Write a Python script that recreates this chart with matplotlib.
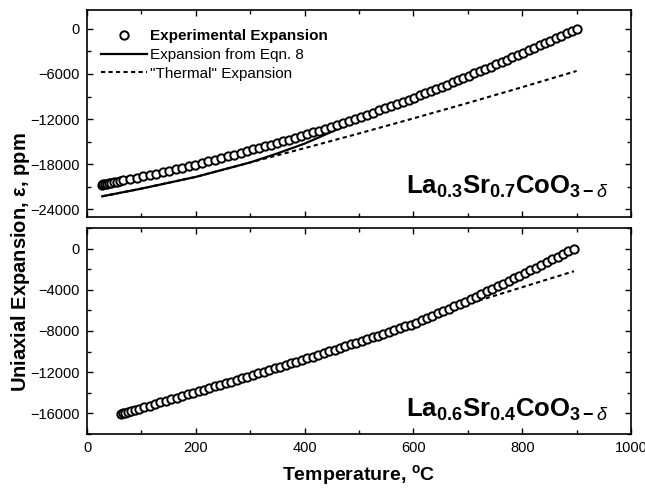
import matplotlib
matplotlib.use("Agg")
import matplotlib.pyplot as plt
from matplotlib.ticker import MultipleLocator

plt.rcParams['font.family'] = ['Liberation Sans', 'DejaVu Sans']
plt.rcParams['mathtext.fontset'] = 'custom'
plt.rcParams['mathtext.rm'] = 'Liberation Sans'
plt.rcParams['mathtext.bf'] = 'Liberation Sans:bold'
plt.rcParams['mathtext.it'] = 'Liberation Sans:italic'

# ---------------- Top panel: La0.3Sr0.7CoO3-d ----------------
top_exp_T = [28, 30, 33, 36, 40, 44, 49, 55, 61, 67, 79, 91,
             103, 115, 127, 139, 151, 163, 175, 187, 199,
             211, 223, 235, 247, 259, 271, 283, 295,
             306, 317, 328, 339, 350, 361, 372, 383, 394,
             405, 416, 427, 438, 449, 460, 471, 482, 493,
             504, 515, 526, 537, 548, 559, 570, 581, 592,
             602, 612, 622, 632, 642, 652, 662, 672, 682, 692,
             702, 712, 722, 732, 742, 752, 762, 772, 782, 792,
             802, 812, 822, 832, 842, 852, 862, 872, 882, 892, 900]
top_exp_v = [-20700, -20670, -20630, -20580, -20520, -20470, -20390, -20310, -20220, -20130, -19960, -19780,
             -19600, -19410, -19220, -19030, -18830, -18640, -18450, -18260, -18070,
             -17840, -17610, -17390, -17160, -16930, -16700, -16470, -16250,
             -16030, -15810, -15590, -15370, -15150, -14930, -14710, -14490, -14270,
             -14030, -13770, -13520, -13260, -13000, -12740, -12480, -12220, -11960,
             -11700, -11410, -11120, -10840, -10550, -10270, -9980, -9690, -9410,
             -9140, -8850, -8560, -8270, -7980, -7690, -7400, -7110, -6820, -6530,
             -6240, -5930, -5630, -5320, -5020, -4710, -4410, -4100, -3800, -3490,
             -3190, -2860, -2540, -2210, -1890, -1560, -1240, -910, -590, -260, 0]

top_eqn_T = [28, 100, 200, 300, 350, 400, 450, 500, 540, 560, 600, 700, 800, 900]
top_eqn_v = [-22250, -21230, -19670, -17750, -16550, -15250, -13675, -12100, -10810, -10240,
             -9200, -6300, -3250, 0]

top_th_T = [28, 100, 200, 300, 400, 500, 600, 700, 800, 900]
top_th_v = [-22250, -21230, -19670, -17750, -15850, -13900, -11900, -9850, -7750, -5600]

# ---------------- Bottom panel: La0.6Sr0.4CoO3-d ----------------
bot_exp_T = [63, 66, 70, 75, 81, 88, 96,
             105, 115, 125, 135, 145, 155, 165, 175, 185, 195,
             205, 215, 225, 235, 245, 255, 265, 275, 285, 295,
             305, 315, 325, 335, 345, 355, 365, 375, 385, 395,
             405, 415, 425, 435, 445, 455, 465, 475, 485, 495,
             505, 515, 525, 535, 545, 555, 565, 575, 585, 595,
             605, 615, 625, 635, 645, 655, 665, 675, 685, 695,
             705, 715, 725, 735, 745, 755, 765, 775, 785, 795,
             805, 815, 825, 835, 845, 855, 865, 875, 885, 895]
bot_exp_v = [-16050, -16000, -15940, -15860, -15770, -15660, -15530,
             -15390, -15240, -15080, -14930, -14770, -14620, -14460, -14310, -14150, -14000,
             -13840, -13690, -13530, -13370, -13220, -13060, -12910, -12750, -12590, -12440,
             -12280, -12120, -11960, -11790, -11630, -11470, -11310, -11150, -10980, -10820,
             -10660, -10490, -10320, -10150, -9980, -9810, -9640, -9470, -9300, -9130,
             -8960, -8790, -8610, -8440, -8260, -8090, -7910, -7740, -7560, -7390,
             -7190, -6960, -6740, -6510, -6290, -6060, -5840, -5610, -5390, -5160,
             -4920, -4670, -4410, -4160, -3900, -3650, -3390, -3140, -2880, -2630,
             -2370, -2110, -1840, -1580, -1320, -1050, -790, -530, -260, 0]

bot_eqn_T = [63, 100, 200, 300, 400, 500, 600, 700, 800, 895]
bot_eqn_v = [-16050, -15470, -13920, -12360, -10740, -9050, -7300, -5050, -2500, 0]

bot_th_T = [63, 100, 200, 300, 400, 500, 600, 650, 700, 800, 895]
bot_th_v = [-16050, -15470, -13920, -12360, -10740, -9050, -7300, -6300, -5380, -3750, -2200]

labels = ['Experimental Expansion', 'Expansion from Eqn. 8', '"Thermal" Expansion']

fig = plt.figure(figsize=(6.45, 4.88), dpi=100)
ax1 = fig.add_axes([0.1349, 0.5553, 0.8434, 0.4242])
ax2 = fig.add_axes([0.1349, 0.1107, 0.8434, 0.4221])

mk = dict(linestyle='none', marker='o', markersize=6.0, markerfacecolor='white',
          markeredgecolor='black', markeredgewidth=1.4)

for ax, eT, ev, qT, qv, tT, tv in [(ax1, top_exp_T, top_exp_v, top_eqn_T, top_eqn_v, top_th_T, top_th_v),
                                     (ax2, bot_exp_T, bot_exp_v, bot_eqn_T, bot_eqn_v, bot_th_T, bot_th_v)]:
    ax.plot(tT, tv, color='black', lw=1.5, linestyle=(0, (2.0, 1.6)), label=labels[2], zorder=2)
    ax.plot(qT, qv, color='black', lw=1.6, linestyle='-', label=labels[1], zorder=2)
    ax.plot(eT, ev, label=labels[0], zorder=3, **mk)
    ax.set_xlim(0, 1000)
    ax.xaxis.set_major_locator(MultipleLocator(200))
    ax.xaxis.set_minor_locator(MultipleLocator(100))
    ax.tick_params(which='both', direction='in', top=True, right=True, width=1.0,
                   labelsize=10.5, pad=5)
    ax.tick_params(which='major', length=4.5)
    ax.tick_params(which='minor', length=3)
    for s in ax.spines.values():
        s.set_linewidth(1.2)

ax1.set_ylim(-25000, 2500)
ax1.yaxis.set_major_locator(MultipleLocator(6000))
ax1.yaxis.set_minor_locator(MultipleLocator(3000))
ax1.tick_params(labelbottom=False)

ax2.set_ylim(-18000, 2000)
ax2.yaxis.set_major_locator(MultipleLocator(4000))
ax2.yaxis.set_minor_locator(MultipleLocator(2000))

h, l = ax1.get_legend_handles_labels()
order = [2, 1, 0]
leg = ax1.legend([h[i] for i in order], [l[i] for i in order], loc='upper left',
                 bbox_to_anchor=(0.006, 0.96),
                 frameon=False, fontsize=11, handlelength=3.0, handletextpad=0.2,
                 labelspacing=0.32, borderaxespad=0.3, borderpad=0.4)
leg.get_texts()[0].set_fontweight('bold')

ax1.text(0.958, 0.11, r'$\mathbf{La}_{\mathbf{0.3}}\mathbf{Sr}_{\mathbf{0.7}}\mathbf{CoO}_{\mathbf{3-}\delta}$',
         transform=ax1.transAxes, ha='right', va='baseline', fontsize=18.5)
ax2.text(0.958, 0.085, r'$\mathbf{La}_{\mathbf{0.6}}\mathbf{Sr}_{\mathbf{0.4}}\mathbf{CoO}_{\mathbf{3-}\delta}$',
         transform=ax2.transAxes, ha='right', va='baseline', fontsize=18.5)

ax2.set_xlabel(r'Temperature, $^{\mathbf{o}}$C', fontsize=14, fontweight='bold', labelpad=6)
fig.text(0.032, 0.463, r'Uniaxial Expansion, $\mathbf{\varepsilon}$, ppm', rotation=90,
         ha='center', va='center', fontsize=14.5, fontweight='bold')

fig.savefig('out.png', dpi=100)
